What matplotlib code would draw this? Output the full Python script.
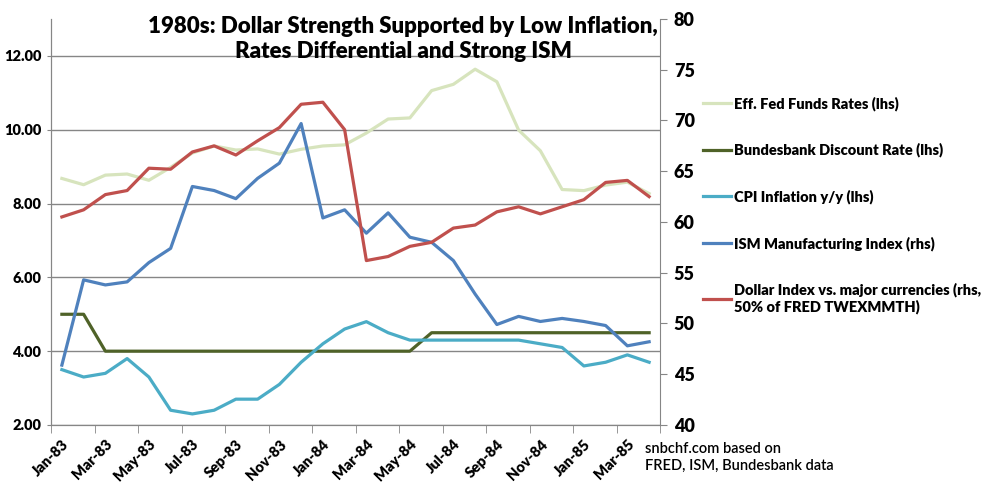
import matplotlib
matplotlib.use('Agg')
import matplotlib.pyplot as plt
import numpy as np

plt.rcParams['font.family'] = ['Lato', 'DejaVu Sans']

# Monatsdaten Jan-83 .. Apr-85
months = ['Jan-83', 'Feb-83', 'Mar-83', 'Apr-83', 'May-83', 'Jun-83', 'Jul-83', 'Aug-83',
          'Sep-83', 'Oct-83', 'Nov-83', 'Dec-83', 'Jan-84', 'Feb-84', 'Mar-84', 'Apr-84',
          'May-84', 'Jun-84', 'Jul-84', 'Aug-84', 'Sep-84', 'Oct-84', 'Nov-84', 'Dec-84',
          'Jan-85', 'Feb-85', 'Mar-85', 'Apr-85']

fed_funds = [8.68, 8.51, 8.77, 8.80, 8.63, 8.98, 9.37, 9.56, 9.45, 9.48, 9.34, 9.47,
             9.56, 9.59, 9.91, 10.29, 10.32, 11.06, 11.23, 11.64, 11.30, 9.99, 9.43, 8.38,
             8.35, 8.50, 8.58, 8.27]
bundesbank = [5.0, 5.0, 4.0, 4.0, 4.0, 4.0, 4.0, 4.0, 4.0, 4.0, 4.0, 4.0,
              4.0, 4.0, 4.0, 4.0, 4.0, 4.5, 4.5, 4.5, 4.5, 4.5, 4.5, 4.5,
              4.5, 4.5, 4.5, 4.5]
cpi = [3.5, 3.3, 3.4, 3.8, 3.3, 2.4, 2.3, 2.4, 2.7, 2.7, 3.1, 3.7,
       4.2, 4.6, 4.8, 4.5, 4.3, 4.3, 4.3, 4.3, 4.3, 4.3, 4.2, 4.1,
       3.6, 3.7, 3.9, 3.7]
ism = [45.9, 54.3, 53.8, 54.1, 56.0, 57.4, 63.5, 63.1, 62.3, 64.3, 65.8, 69.7,
       60.4, 61.2, 58.9, 60.9, 58.5, 58.0, 56.2, 52.9, 49.9, 50.7, 50.2, 50.5,
       50.2, 49.8, 47.8, 48.2]
dollar = [60.5, 61.2, 62.7, 63.1, 65.3, 65.2, 66.9, 67.5, 66.6, 68.0, 69.3, 71.6,
          71.8, 69.1, 56.2, 56.6, 57.6, 58.0, 59.4, 59.7, 61.0, 61.5, 60.8, 61.5,
          62.2, 63.9, 64.1, 62.5]

left_ticks = [2, 4, 6, 8, 10, 12]
right_ticks = [40, 45, 50, 55, 60, 65, 70, 75, 80]

grey = '#868686'
bold = 'heavy'
x = np.arange(len(months))

fig = plt.figure(figsize=(9.88, 5.0), dpi=100)
ax = fig.add_axes([51 / 988, 75 / 500, 609 / 988, 406 / 500])
ax2 = ax.twinx()

l1, = ax.plot(x, fed_funds, color='#d7e4bd', lw=2.3, label='Eff. Fed Funds Rates (lhs)')
l2, = ax.plot(x, bundesbank, color='#4f6228', lw=2.3, label='Bundesbank Discount Rate (lhs)')
l3, = ax.plot(x, cpi, color='#4bacc6', lw=2.3, label='CPI Inflation y/y (lhs)')
l4, = ax2.plot(x, ism, color='#4f81bd', lw=2.3, label='ISM Manufacturing Index (rhs)')
l5, = ax2.plot(x, dollar, color='#c0504d', lw=2.3,
               label='Dollar Index vs. major currencies (rhs,\n50% of FRED TWEXMMTH)')

# Achsen
ax.set_xlim(-0.5, len(months) - 0.5)
ax.set_ylim(2, 13)
ax2.set_ylim(40, 80)

ax.set_yticks(left_ticks)
ax.set_yticklabels(['%.2f' % v for v in left_ticks], fontsize=10.5, fontweight=bold)
ax2.set_yticks(right_ticks)
ax2.set_yticklabels([str(v) for v in right_ticks], fontsize=13, fontweight=bold)

ax.set_xticks(x[::2])
ax.set_xticklabels(months[::2], rotation=45, ha='right', rotation_mode='anchor',
                   fontsize=10.5, fontweight=bold)
ax.tick_params(axis='x', which='major', length=0, pad=9)
ax.set_xticks(np.arange(-0.5, len(months), 2), minor=True)
ax.tick_params(axis='x', which='minor', length=6, color=grey)
ax.tick_params(axis='y', length=3, color=grey, pad=4)
ax2.tick_params(axis='y', length=5, color=grey, pad=5)

ax.grid(axis='y', color=grey, lw=1)
ax.set_axisbelow(True)
for a in (ax, ax2):
    a.spines['top'].set_visible(False)
    for s in ('left', 'right', 'bottom'):
        a.spines[s].set_color(grey)
ax.spines['right'].set_visible(False)

# Titel
fig.text(403 / 988, 1 - 16 / 500,
         '1980s: Dollar Strength Supported by Low Inflation,\nRates Differential and Strong ISM',
         ha='center', va='top', fontsize=16, fontweight=bold, linespacing=1.25)

# Legende
fig.legend(handles=[l1, l2, l3, l4, l5], loc='upper left',
           bbox_to_anchor=(690 / 988, 1 - 83 / 500), frameon=False,
           prop={'size': 10.5, 'weight': bold}, handlelength=1.9, handletextpad=0.2,
           labelspacing=2.2)

fig.text(645 / 988, 1 - 442 / 500, 'snbchf.com based on\nFRED, ISM, Bundesbank data',
         ha='left', va='top', fontsize=10.5, fontweight='semibold', linespacing=1.3)

fig.savefig('out.png', dpi=100)
